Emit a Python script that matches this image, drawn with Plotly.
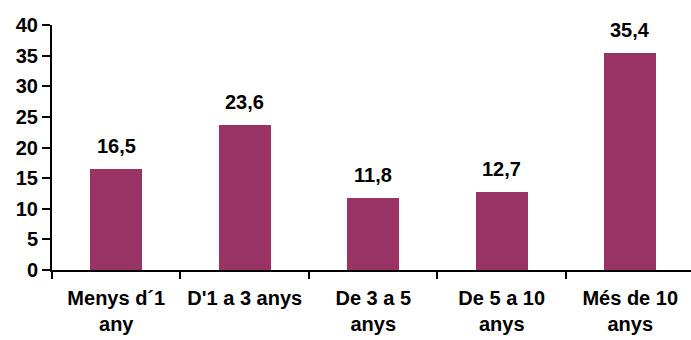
import plotly.graph_objects as go

categories = ["Menys d´1<br>any", "D'1 a 3 anys", "De 3 a 5<br>anys", "De 5 a 10<br>anys", "Més de 10<br>anys"]
values = [16.5, 23.6, 11.8, 12.7, 35.4]
y_ticks = [0, 5, 10, 15, 20, 25, 30, 35, 40]

bar_color = "#993366"
font_family = "Liberation Sans, Arial, sans-serif"
fsize = 20

fig = go.Figure()
fig.add_trace(go.Bar(
    x=categories,
    y=values,
    marker=dict(color=bar_color, line=dict(width=0)),
    width=0.405,
))

for c, v in zip(categories, values):
    fig.add_annotation(
        x=c, y=v, text=f"{v:.1f}".replace(".", ","),
        showarrow=False, yanchor="bottom", yshift=10,
        font=dict(family=font_family, size=fsize, color="black", weight="bold"),
    )

fig.update_layout(
    width=691, height=340,
    margin=dict(l=52, r=0, t=25, b=70),
    paper_bgcolor="white", plot_bgcolor="white",
    showlegend=False,
    font=dict(family=font_family, size=fsize, color="black", weight="bold"),
    bargap=0,
)
fig.update_xaxes(
    type="category",
    range=[-0.5, 4.473],
    showline=True, linecolor="black", linewidth=2,
    ticks="outside", tickson="boundaries", ticklen=7, tickwidth=2, tickcolor="black",
    showgrid=False, zeroline=False,
    ticklabelstandoff=9,
    tickfont=dict(family=font_family, size=fsize, color="black", weight="bold"),
)
fig.update_yaxes(
    range=[0, 40],
    tickvals=y_ticks,
    showline=True, linecolor="black", linewidth=2,
    ticks="outside", ticklen=8, tickwidth=2, tickcolor="black",
    showgrid=False, zeroline=False,
    tickfont=dict(family=font_family, size=fsize, color="black", weight="bold"),
)

fig.write_html("out.html")
